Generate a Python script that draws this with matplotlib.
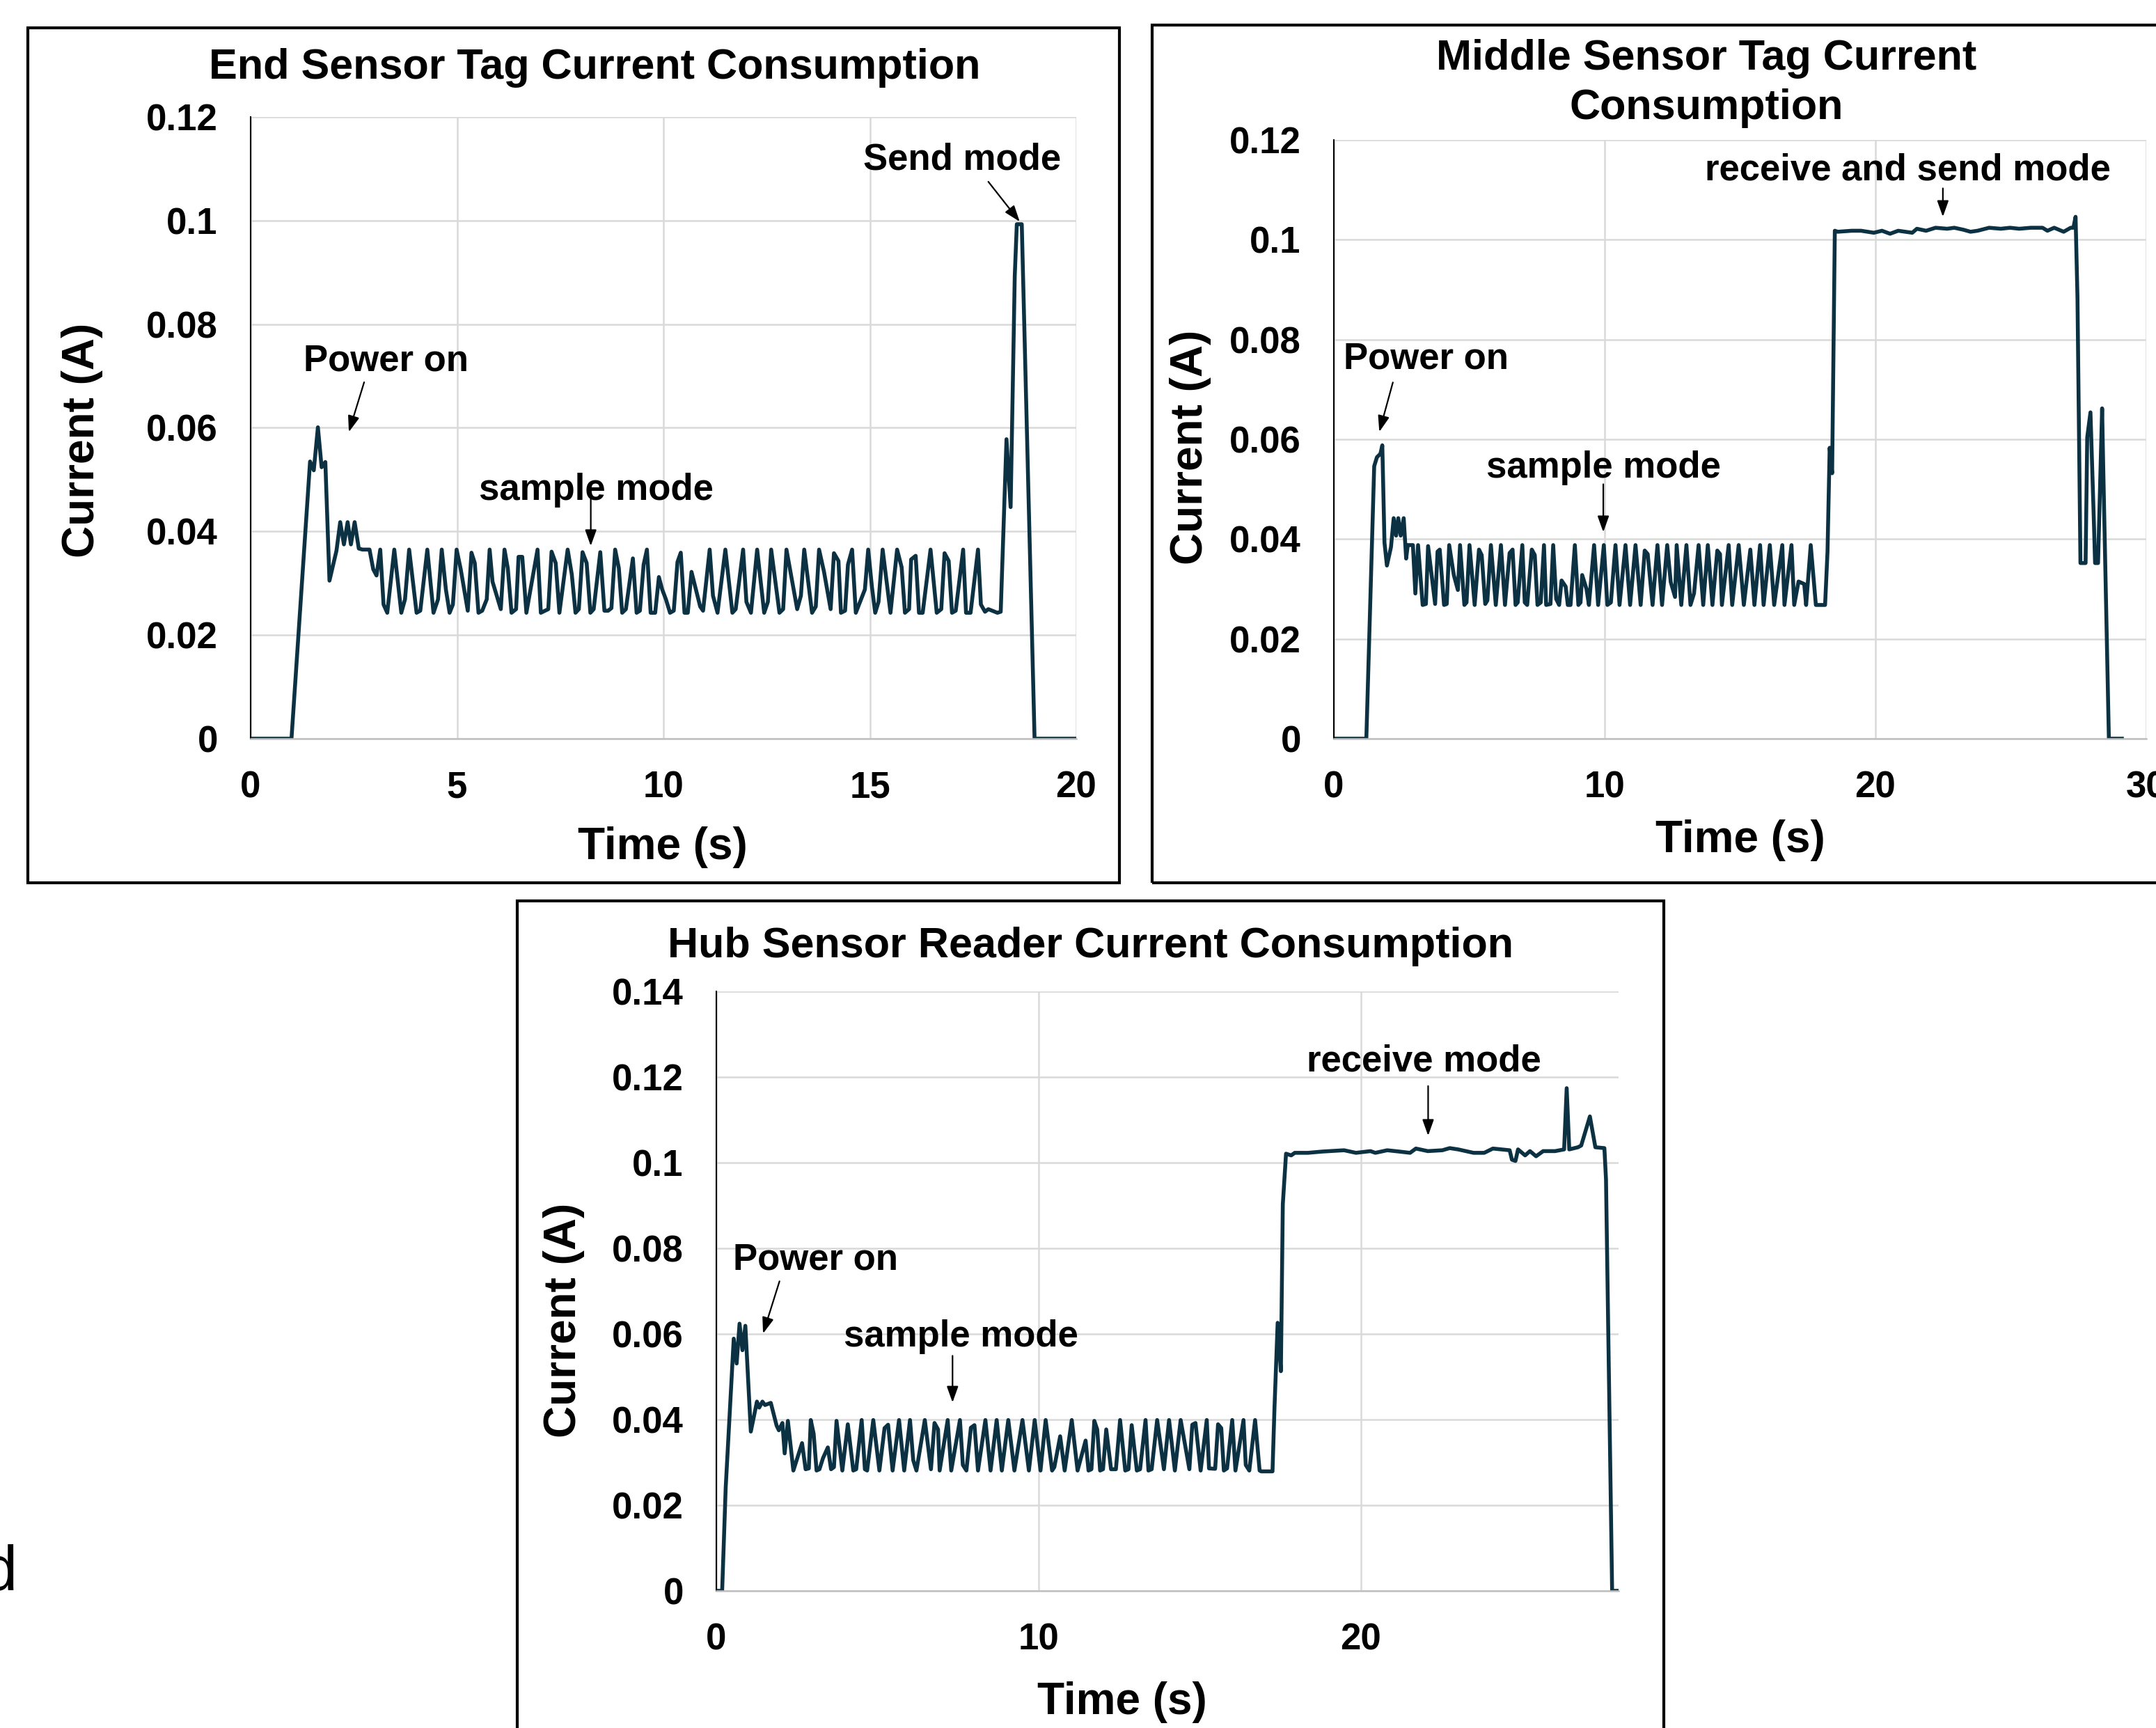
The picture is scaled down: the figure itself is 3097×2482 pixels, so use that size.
import matplotlib
matplotlib.use("Agg")
import matplotlib.pyplot as plt
from matplotlib.patches import Rectangle
from matplotlib.ticker import MultipleLocator, FuncFormatter
from matplotlib.transforms import offset_copy

plt.rcParams["font.family"] = ["Liberation Sans", "DejaVu Sans"]

# ---- End sensor tag (time s, current A) ----
end_time = [
    0, 0.99, 1.44, 1.53, 1.63, 1.72, 1.81, 1.91, 2.08, 2.17, 2.26, 2.35, 2.43, 2.52,
    2.62, 2.71, 2.88, 2.97, 3.05, 3.14, 3.22, 3.31, 3.48, 3.65, 3.74, 3.84, 4.02, 4.11,
    4.28, 4.43, 4.54, 4.63, 4.73, 4.82, 4.90, 4.99, 5.09, 5.26, 5.35, 5.43, 5.52, 5.61,
    5.72, 5.79, 5.86, 6.06, 6.15, 6.23, 6.32, 6.43, 6.49, 6.58, 6.68, 6.95, 7.03, 7.21,
    7.29, 7.39, 7.48, 7.68, 7.78, 7.87, 7.95, 8.04, 8.14, 8.23, 8.31, 8.47, 8.57, 8.66,
    8.74, 8.83, 8.92, 9.00, 9.09, 9.26, 9.35, 9.43, 9.52, 9.60, 9.69, 9.80, 9.89, 9.97,
    10.06, 10.16, 10.25, 10.34, 10.42, 10.51, 10.59, 10.68, 10.89, 10.96, 11.12, 11.20,
    11.31, 11.50, 11.67, 11.75, 11.93, 12.01, 12.12, 12.27, 12.44, 12.53, 12.61, 12.81,
    12.90, 12.98, 13.24, 13.33, 13.41, 13.60, 13.69, 13.77, 13.89, 14.05, 14.13, 14.24,
    14.30, 14.40, 14.47, 14.57, 14.66, 14.88, 14.96, 15.05, 15.13, 15.21, 15.31, 15.50,
    15.66, 15.77, 15.85, 15.95, 16.00, 16.11, 16.19, 16.28, 16.47, 16.62, 16.73, 16.81,
    16.91, 16.99, 17.08, 17.26, 17.33, 17.44, 17.62, 17.69, 17.79, 17.87, 18.09, 18.17,
    18.31, 18.41, 18.51, 18.56, 18.68, 18.99, 20.0,
]
end_current = [
    0, 0, 0.0535, 0.0518, 0.0601, 0.0524, 0.0534, 0.0305, 0.0363, 0.0418, 0.0375, 0.0418,
    0.0375, 0.0418, 0.0367, 0.0365, 0.0365, 0.0327, 0.0315, 0.0365, 0.0259, 0.0243, 0.0365,
    0.0243, 0.0269, 0.0365, 0.0243, 0.0247, 0.0365, 0.0243, 0.0269, 0.0365, 0.0288, 0.0243,
    0.0259, 0.0365, 0.0327, 0.0247, 0.0359, 0.0339, 0.0243, 0.0247, 0.0269, 0.0365, 0.0303,
    0.0250, 0.0365, 0.0329, 0.0243, 0.0250, 0.0351, 0.0351, 0.0243, 0.0365, 0.0243, 0.0250,
    0.0361, 0.0339, 0.0243, 0.0365, 0.0317, 0.0243, 0.0250, 0.0360, 0.0339, 0.0243, 0.0250,
    0.0360, 0.0247, 0.0247, 0.0252, 0.0365, 0.0329, 0.0243, 0.0250, 0.0348, 0.0243, 0.0247,
    0.0336, 0.0365, 0.0243, 0.0243, 0.0312, 0.0288, 0.0269, 0.0243, 0.0247, 0.0341, 0.0359,
    0.0243, 0.0243, 0.0322, 0.0255, 0.0247, 0.0365, 0.0276, 0.0243, 0.0365, 0.0243, 0.0250,
    0.0365, 0.0264, 0.0243, 0.0365, 0.0243, 0.0264, 0.0365, 0.0243, 0.0250, 0.0365, 0.0250,
    0.0276, 0.0365, 0.0243, 0.0255, 0.0365, 0.0322, 0.0250, 0.0358, 0.0343, 0.0243, 0.0247,
    0.0336, 0.0365, 0.0243, 0.0288, 0.0365, 0.0293, 0.0243, 0.0264, 0.0365, 0.0243, 0.0365,
    0.0331, 0.0243, 0.0250, 0.0346, 0.0353, 0.0243, 0.0243, 0.0365, 0.0243, 0.0250, 0.0358,
    0.0343, 0.0243, 0.0247, 0.0365, 0.0243, 0.0243, 0.0365, 0.0259, 0.0245, 0.0250, 0.0243,
    0.0245, 0.0578, 0.0447, 0.0893, 0.0993, 0.0993, 0, 0,
]

# ---- Middle sensor tag ----
mid_time = [
    0, 1.20, 1.49, 1.59, 1.72, 1.79, 1.87, 1.96, 2.11, 2.21, 2.30, 2.38, 2.47, 2.58, 2.67,
    2.73, 2.92, 3.01, 3.11, 3.28, 3.40, 3.48, 3.74, 3.83, 3.91, 4.07, 4.17, 4.26, 4.43,
    4.58, 4.66, 4.82, 4.90, 5.01, 5.20, 5.36, 5.46, 5.59, 5.67, 5.80, 5.98, 6.17, 6.32,
    6.49, 6.60, 6.71, 6.79, 6.96, 7.05, 7.14, 7.31, 7.42, 7.52, 7.64, 7.76, 7.84, 8.00,
    8.10, 8.21, 8.32, 8.41, 8.56, 8.64, 8.74, 8.90, 9.03, 9.11, 9.17, 9.33, 9.42, 9.61,
    9.76, 9.97, 10.10, 10.23, 10.40, 10.55, 10.77, 10.94, 11.14, 11.33, 11.48, 11.59,
    11.77, 11.95, 12.12, 12.31, 12.44, 12.60, 12.66, 12.83, 13.02, 13.17, 13.30, 13.47,
    13.64, 13.81, 13.98, 14.16, 14.26, 14.33, 14.58, 14.71, 14.95, 15.14, 15.38, 15.53,
    15.74, 15.87, 16.10, 16.26, 16.56, 16.64, 16.90, 17.00, 17.16, 17.37, 17.44, 17.61,
    17.80, 18.14, 18.23, 18.31, 18.40, 18.50, 18.61, 19.12, 19.47, 19.94, 20.24, 20.54,
    20.84, 21.10, 21.36, 21.53, 21.87, 22.22, 22.65, 22.91, 23.25, 23.51, 23.77, 24.20,
    24.63, 24.97, 25.31, 25.74, 26.17, 26.35, 26.60, 26.95, 27.21, 27.31, 27.39, 27.46,
    27.57, 27.76, 27.82, 27.94, 28.07, 28.11, 28.22, 28.37, 28.41, 28.62, 29.10,
]
mid_current = [
    0, 0, 0.0546, 0.0564, 0.0571, 0.0588, 0.0393, 0.0347, 0.0384, 0.0442, 0.0407, 0.0442,
    0.0407, 0.0442, 0.0361, 0.0388, 0.0388, 0.0291, 0.0388, 0.0268, 0.0270, 0.0386, 0.0270,
    0.0375, 0.0379, 0.0268, 0.0270, 0.0388, 0.0328, 0.0298, 0.0388, 0.0268, 0.0273, 0.0388,
    0.0268, 0.0379, 0.0368, 0.0270, 0.0277, 0.0388, 0.0268, 0.0388, 0.0268, 0.0372, 0.0379,
    0.0268, 0.0273, 0.0388, 0.0273, 0.0268, 0.0379, 0.0368, 0.0268, 0.0273, 0.0388, 0.0268,
    0.0270, 0.0388, 0.0280, 0.0268, 0.0317, 0.0305, 0.0268, 0.0268, 0.0388, 0.0268, 0.0273,
    0.0328, 0.0300, 0.0268, 0.0388, 0.0268, 0.0388, 0.0268, 0.0273, 0.0388, 0.0268, 0.0388,
    0.0268, 0.0388, 0.0268, 0.0377, 0.0370, 0.0268, 0.0388, 0.0268, 0.0388, 0.0314, 0.0284,
    0.0388, 0.0268, 0.0388, 0.0268, 0.0291, 0.0388, 0.0268, 0.0388, 0.0268, 0.0377, 0.0370,
    0.0268, 0.0388, 0.0268, 0.0388, 0.0268, 0.0379, 0.0268, 0.0388, 0.0268, 0.0388, 0.0268,
    0.0388, 0.0268, 0.0388, 0.0268, 0.0315, 0.0310, 0.0268, 0.0388, 0.0268, 0.0268, 0.0375,
    0.0583, 0.0532, 0.1018, 0.1016, 0.1018, 0.1018, 0.1014, 0.1018, 0.1012, 0.1018, 0.1016,
    0.1014, 0.1022, 0.1018, 0.1024, 0.1022, 0.1024, 0.1020, 0.1016, 0.1018, 0.1024, 0.1022,
    0.1024, 0.1022, 0.1024, 0.1024, 0.1018, 0.1024, 0.1016, 0.1024, 0.1024, 0.1046, 0.0884,
    0.0352, 0.0352, 0.0604, 0.0654, 0.0428, 0.0352, 0.0352, 0.0662, 0.0548, 0, 0,
]

# ---- Hub sensor reader ----
hub_time = [
    0, 0.18, 0.29, 0.54, 0.63, 0.72, 0.81, 0.90, 1.07, 1.26, 1.33, 1.43, 1.51, 1.69, 1.87,
    1.94, 2.05, 2.12, 2.22, 2.39, 2.66, 2.77, 2.87, 2.93, 3.02, 3.11, 3.20, 3.31, 3.46,
    3.56, 3.65, 3.73, 3.91, 4.08, 4.25, 4.34, 4.51, 4.61, 4.68, 4.87, 5.06, 5.22, 5.33,
    5.47, 5.67, 5.83, 6.01, 6.11, 6.21, 6.47, 6.66, 6.77, 6.88, 6.93, 7.18, 7.29, 7.56,
    7.65, 7.76, 7.90, 8.01, 8.12, 8.35, 8.51, 8.70, 8.86, 9.06, 9.25, 9.50, 9.70, 9.88,
    10.06, 10.22, 10.42, 10.49, 10.67, 10.81, 11.03, 11.21, 11.46, 11.55, 11.64, 11.73,
    11.82, 11.91, 12.00, 12.10, 12.25, 12.40, 12.53, 12.69, 12.79, 12.89, 13.05, 13.15,
    13.32, 13.41, 13.51, 13.68, 13.89, 14.05, 14.23, 14.41, 14.68, 14.77, 14.87, 15.03,
    15.22, 15.29, 15.48, 15.57, 15.67, 15.75, 15.85, 16.01, 16.11, 16.36, 16.43, 16.54,
    16.72, 16.86, 16.91, 17.26, 17.32, 17.42, 17.52, 17.58, 17.68, 17.84, 17.95, 18.36,
    18.81, 19.48, 19.85, 20.30, 20.45, 20.82, 21.19, 21.53, 21.71, 22.08, 22.53, 22.76,
    23.02, 23.50, 23.83, 24.10, 24.62, 24.69, 24.80, 24.88, 25.10, 25.25, 25.44, 25.66,
    26.03, 26.31, 26.39, 26.47, 26.74, 26.84, 27.11, 27.28, 27.56, 27.61, 27.80, 27.95,
]
hub_current = [
    0, 0, 0.0241, 0.0589, 0.0531, 0.0624, 0.0562, 0.0619, 0.0372, 0.0442, 0.0428, 0.0442,
    0.0434, 0.0439, 0.0386, 0.0375, 0.0392, 0.0321, 0.0397, 0.0281, 0.0345, 0.0284, 0.0286,
    0.0399, 0.0367, 0.0281, 0.0284, 0.0310, 0.0335, 0.0284, 0.0289, 0.0397, 0.0281, 0.0389,
    0.0281, 0.0284, 0.0399, 0.0284, 0.0281, 0.0399, 0.0281, 0.0380, 0.0388, 0.0281, 0.0399,
    0.0281, 0.0399, 0.0305, 0.0281, 0.0399, 0.0284, 0.0392, 0.0377, 0.0281, 0.0399, 0.0281,
    0.0399, 0.0294, 0.0281, 0.0381, 0.0387, 0.0281, 0.0399, 0.0281, 0.0399, 0.0281, 0.0399,
    0.0281, 0.0399, 0.0281, 0.0399, 0.0281, 0.0399, 0.0281, 0.0289, 0.0361, 0.0281, 0.0399,
    0.0281, 0.0351, 0.0281, 0.0284, 0.0397, 0.0377, 0.0281, 0.0284, 0.0377, 0.0284, 0.0284,
    0.0399, 0.0281, 0.0284, 0.0387, 0.0281, 0.0284, 0.0399, 0.0281, 0.0284, 0.0399, 0.0284,
    0.0399, 0.0281, 0.0399, 0.0284, 0.0388, 0.0392, 0.0281, 0.0399, 0.0286, 0.0285, 0.0389,
    0.0380, 0.0281, 0.0286, 0.0399, 0.0281, 0.0399, 0.0294, 0.0281, 0.0399, 0.0281, 0.0279,
    0.0279, 0.0424, 0.0626, 0.0513, 0.0903, 0.1021, 0.1017, 0.1023, 0.1023, 0.1026, 0.1029,
    0.1023, 0.1027, 0.1023, 0.1029, 0.1026, 0.1023, 0.1033, 0.1027, 0.1029, 0.1034, 0.1031,
    0.1023, 0.1023, 0.1033, 0.1029, 0.1007, 0.1004, 0.1031, 0.1017, 0.1027, 0.1015, 0.1027,
    0.1027, 0.1031, 0.1174, 0.1031, 0.1036, 0.1040, 0.1108, 0.1036, 0.1034, 0.0961, 0, 0,
]

LINE_COLOR = "#0b3142"
W, H = 3097, 2482


def fx(px):
    return px / W


def fy(px):
    return 1 - px / H


def setup_axes(rect, xmax, xstep, ymax):
    ax = fig.add_axes(rect)
    ax.set_xlim(0, xmax)
    ax.set_ylim(0, ymax)
    ax.xaxis.set_major_locator(MultipleLocator(xstep))
    ax.yaxis.set_major_locator(MultipleLocator(0.02))
    ax.yaxis.set_major_formatter(FuncFormatter(lambda v, p: f"{round(v, 2):g}"))
    ax.xaxis.set_major_formatter(FuncFormatter(lambda v, p: f"{v:g}"))
    ax.grid(True, color="#d9d9d9", linewidth=1.8)
    ax.set_axisbelow(True)
    for side in ["top", "right"]:
        ax.spines[side].set_visible(False)
    ax.spines["left"].set_color("black")
    ax.spines["left"].set_linewidth(1.5)
    ax.spines["bottom"].set_color("#bfbfbf")
    ax.spines["bottom"].set_linewidth(1.8)
    ax.tick_params(axis="both", length=0, labelsize=38)
    ax.tick_params(axis="x", pad=33)
    ax.tick_params(axis="y", pad=34)
    for lab in ax.get_xticklabels() + ax.get_yticklabels():
        lab.set_fontweight("bold")
    return ax


def label(ax, text, xy_text, tail, head):
    shifted = offset_copy(ax.transData, fig=fig, y=-3, units="points")
    ax.text(xy_text[0], xy_text[1], text, fontsize=38, fontweight="bold",
            ha="center", va="center", transform=shifted)
    ax.annotate("", xy=head, xytext=tail,
                arrowprops=dict(arrowstyle="-|>,head_length=0.7,head_width=0.25",
                                mutation_scale=20, lw=1.6, color="black",
                                shrinkA=0, shrinkB=0))


fig = plt.figure(figsize=(W / 100, H / 100), dpi=100)

# panel frames
for (x0, y0, x1, y1) in [(40, 40, 1608, 1268), (1655, 36, 3140, 1268),
                         (743, 1294, 2390, 2530)]:
    fig.patches.append(Rectangle((fx(x0), fy(y1)), fx(x1) - fx(x0), fy(y0) - fy(y1),
                                 transform=fig.transFigure, fill=False,
                                 edgecolor="black", linewidth=3))

# End sensor
ax1 = setup_axes([fx(360), fy(1061), fx(1546) - fx(360), fy(168) - fy(1061)], 20, 5, 0.12)
ax1.plot(end_time, end_current, color=LINE_COLOR, linewidth=4)
label(ax1, "Power on", (3.28, 0.0735), (2.75, 0.0688), (2.38, 0.0592))
label(ax1, "sample mode", (8.38, 0.0486), (8.24, 0.0465), (8.24, 0.0372))
label(ax1, "Send mode", (17.24, 0.1123), (17.87, 0.1075), (18.63, 0.0998))

# Middle sensor
ax2 = setup_axes([fx(1916), fy(1061), fx(3083) - fx(1916), fy(201) - fy(1061)], 30, 10, 0.12)
ax2.plot(mid_time, mid_current, color=LINE_COLOR, linewidth=4)
label(ax2, "Power on", (3.40, 0.0767), (2.18, 0.0714), (1.68, 0.0615))
label(ax2, "sample mode", (9.95, 0.0549), (9.95, 0.0510), (9.95, 0.0414))
label(ax2, "receive and send mode", (21.2, 0.1145), (22.49, 0.1103), (22.49, 0.1046))

# Hub reader
ax3 = setup_axes([fx(1029), fy(2285), fx(2325) - fx(1029), fy(1424) - fy(2285)], 28, 10, 0.14)
ax3.plot(hub_time, hub_current, color=LINE_COLOR, linewidth=4)
label(ax3, "Power on", (3.07, 0.0780), (1.96, 0.0723), (1.45, 0.0601))
label(ax3, "sample mode", (7.59, 0.0601), (7.33, 0.0549), (7.33, 0.0440))
label(ax3, "receive mode", (21.96, 0.1243), (22.09, 0.1179), (22.09, 0.1063))

# titles and axis labels
fig.text(fx(854), fy(97), "End Sensor Tag Current Consumption", fontsize=44,
         fontweight="bold", ha="center", va="center")
fig.text(fx(2451), fy(120), "Middle Sensor Tag Current\nConsumption", fontsize=44,
         fontweight="bold", ha="center", va="center", linespacing=1.3)
fig.text(fx(1566), fy(1359), "Hub Sensor Reader Current Consumption", fontsize=44,
         fontweight="bold", ha="center", va="center")

for (x, y) in [(118, 632), (1710, 642), (810, 1896)]:
    fig.text(fx(x), fy(y), "Current (A)", fontsize=46, fontweight="bold",
             rotation=90, ha="center", va="center")
for (x, y) in [(952, 1217), (2500, 1207), (1612, 2445)]:
    fig.text(fx(x), fy(y), "Time (s)", fontsize=46, fontweight="bold",
             ha="center", va="center")

# stray letter at the left edge
fig.text(fx(24), fy(2283), "d", fontsize=65, ha="right", va="baseline")

fig.savefig("out.png", dpi=100)
